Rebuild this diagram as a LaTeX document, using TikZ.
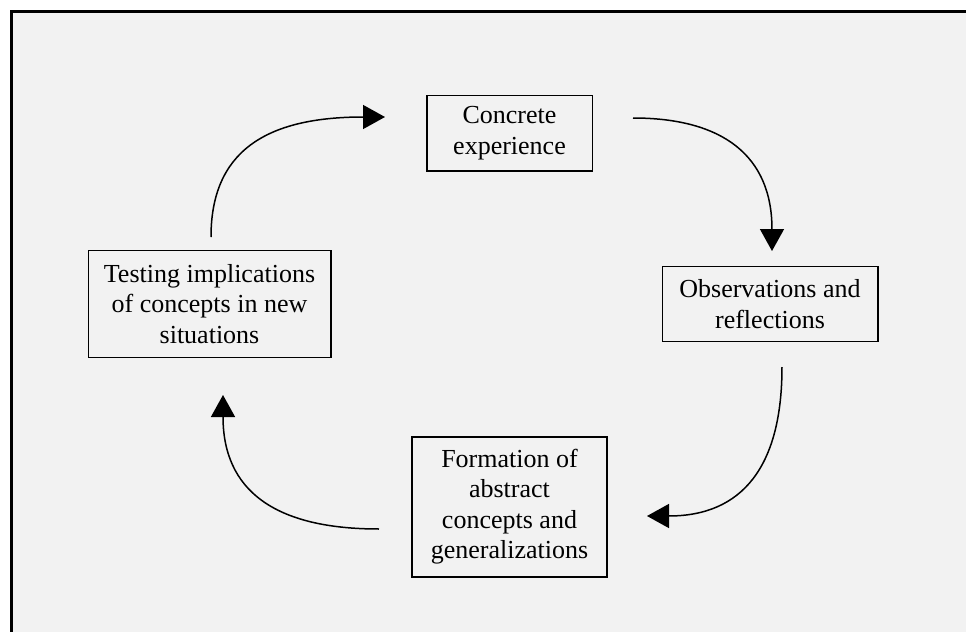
\documentclass[tikz,border=0pt]{standalone}
\usepackage{fontspec}
\setmainfont{Liberation Serif}
\usepackage{tikz}
\usetikzlibrary{arrows.meta}
\definecolor{panel}{RGB}{242,242,242}

\begin{document}
\begin{tikzpicture}[x=0.5pt,y=-0.5pt,
		stage/.style={draw,line width=0.8pt,align=center,inner sep=0pt,font=\fontsize{13}{15.25}\selectfont},
		cyc/.style={line width=0.75pt,-{Triangle[length=11pt,width=12pt]}}]
		\useasboundingbox (0,0) rectangle (966,632);
		\fill[panel] (11.5,11.5) rectangle (966,632);
		\draw[line width=1.3pt] (11.5,632) -- (11.5,11.5) -- (966,11.5);
		% the four stages
		\node[stage,minimum width=82.8pt,minimum height=37.7pt] (ce) at (509.5,133) {Concrete\\experience};
		\node[stage,minimum width=107.7pt,minimum height=37.5pt] (or) at (770,304) {Observations and\\reflections};
		\node[stage,minimum width=97.5pt,minimum height=70pt] (fa) at (509.5,506.7) {Formation of\\abstract\\concepts and\\generalizations};
		\node[stage,minimum width=121.2pt,minimum height=53.5pt] (ti) at (209.5,304) {Testing implications\\of concepts in new\\situations};
		% arrow ends
		\coordinate (ce-in) at (385,117);
		\coordinate (ce-out) at (633,118);
		\coordinate (or-in) at (772,251);
		\coordinate (or-out) at (782,367);
		\coordinate (fa-in) at (647,516);
		\coordinate (fa-out) at (379,529);
		\coordinate (ti-in) at (223,395);
		\coordinate (ti-out) at (211,237);
		\draw[cyc] (ce-out) .. controls +(90,0) and +(0,-95) .. (or-in);
		\draw[cyc] (or-out) .. controls +(0,100) and +(95,0) .. (fa-in);
		\draw[cyc] (fa-out) .. controls +(-105,0) and +(0,95) .. (ti-in);
		\draw[cyc] (ti-out) .. controls +(0,-85) and +(-120,0) .. (ce-in);
\end{tikzpicture}
\end{document}
